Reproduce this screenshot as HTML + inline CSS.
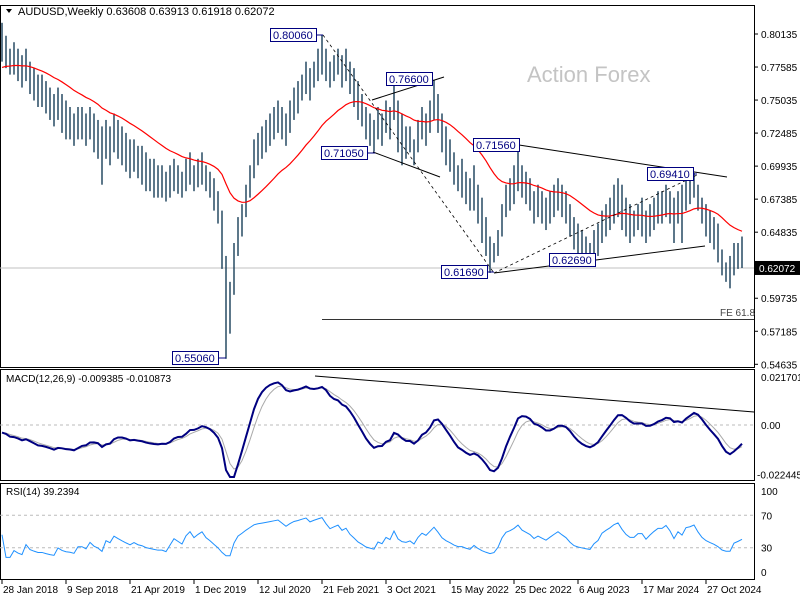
<!DOCTYPE html>
<html><head><meta charset="utf-8">
<style>
html,body{margin:0;padding:0;background:#fff;}
svg{display:block;font-family:"Liberation Sans",sans-serif;}
</style></head>
<body>
<svg id="c" width="800" height="600" viewBox="0 0 800 600">
<rect x="0" y="0" width="800" height="600" fill="#fff"/>
</svg>
<script>
const highs=[.81,.80,.79,.795,.79,.785,.79,.78,.775,.77,
.77,.765,.76,.755,.76,.755,.75,.745,.74,.745,
.745,.74,.745,.74,.735,.73,.735,.73,.74,.735,
.73,.725,.72,.72,.715,.715,.71,.705,.705,.70,
.70,.695,.70,.705,.70,.695,.705,.71,.70,.705,
.71,.70,.695,.69,.68,.665,.63,.61,.64,.66,
.67,.685,.70,.72,.725,.73,.735,.74,.745,.75,
.745,.74,.75,.76,.765,.77,.78,.775,.78,.79,
.8006,.79,.78,.785,.79,.785,.79,.78,.775,.765,
.755,.745,.74,.735,.745,.74,.75,.745,.766,.75,
.74,.73,.73,.72,.735,.745,.74,.75,.766,.755,
.74,.73,.72,.71,.70,.705,.695,.69,.70,.685,
.675,.66,.645,.64,.65,.67,.685,.69,.70,.7156,
.70,.695,.69,.68,.685,.68,.675,.68,.685,.69,
.685,.68,.67,.66,.655,.65,.645,.64,.65,.655,
.665,.67,.675,.685,.69,.685,.675,.67,.665,.67,
.675,.665,.67,.675,.68,.68,.685,.68,.675,.68,
.685,.69,.69,.6941,.685,.675,.67,.665,.66,.655,
.635,.625,.63,.64,.64,.645];
const lows=[.78,.775,.77,.77,.765,.76,.765,.755,.75,.745,
.745,.74,.735,.73,.735,.725,.72,.72,.715,.72,
.72,.715,.72,.71,.705,.685,.705,.70,.71,.705,
.70,.695,.69,.695,.69,.685,.68,.68,.675,.675,
.675,.672,.675,.68,.678,.675,.68,.685,.68,.683,
.685,.68,.675,.665,.655,.62,.5506,.57,.60,.63,
.645,.66,.675,.69,.70,.705,.71,.715,.72,.725,
.72,.715,.725,.735,.74,.75,.755,.75,.76,.765,
.77,.765,.76,.765,.77,.76,.765,.755,.745,.735,
.73,.72,.715,.7105,.72,.715,.725,.72,.735,.71,
.70,.705,.71,.70,.71,.72,.715,.725,.735,.725,
.71,.70,.695,.685,.68,.675,.67,.665,.665,.655,
.64,.63,.6169,.625,.63,.645,.66,.665,.67,.68,
.675,.67,.665,.655,.66,.655,.65,.655,.66,.665,
.66,.655,.645,.635,.63,.628,.6269,.627,.628,.63,
.64,.645,.65,.655,.66,.65,.645,.64,.645,.65,
.645,.64,.645,.65,.655,.655,.66,.655,.64,.655,
.64,.665,.67,.675,.665,.655,.645,.64,.635,.625,
.615,.61,.605,.615,.62,.6207];
const priceTicks=["0.80135","0.77585","0.75035","0.72485","0.69935","0.67385","0.64835","0.59735","0.57185","0.54635"];
const dateLabels=["28 Jan 2018","9 Sep 2018","21 Apr 2019","1 Dec 2019","12 Jul 2020","21 Feb 2021","3 Oct 2021","15 May 2022","25 Dec 2022","6 Aug 2023","17 Mar 2024","27 Oct 2024"];
const dateIdx=[0,16,32,48,64,80,96,112,128,144,160,176];
const rsiTicks=[100,70,30,0];

const svg=document.getElementById('c');
const NS='http://www.w3.org/2000/svg';
function mk(t,a,p){const e=document.createElementNS(NS,t);for(const k in a)e.setAttribute(k,a[k]);(p||svg).appendChild(e);return e;}
const xOf=i=>2+i*4;
const yP=p=>34+(0.80135-p)/0.0255*33.03;
const yM=v=>425-v*2212;
const yR=v=>572-v*0.81;

let e;
e=mk('rect',{x:0.5,y:5.5,width:754,height:362,fill:'none',stroke:'#000'});

e=mk('rect',{x:0.5,y:369.5,width:754,height:111,fill:'none',stroke:'#000'});

e=mk('rect',{x:0.5,y:483.5,width:754,height:96,fill:'none',stroke:'#000'});


e=mk('text',{x:527,y:82,'font-size':22,fill:'#c4c4c4'});e.textContent='Action Forex';


priceTicks.forEach(t=>{const y=yP(parseFloat(t));
 mk('line',{x1:754,x2:758,y1:y,y2:y,stroke:'#000'});
 e=mk('text',{x:761,y:y+4,'font-size':10,fill:'#000'});e.textContent=t;
 
});

const last=0.62072;
e=mk('line',{x1:0,x2:754,y1:yP(last),y2:yP(last),stroke:'#c0c0c0'});

e=mk('rect',{x:755,y:yP(last)-7,width:45,height:14,fill:'#000'});

e=mk('text',{x:759,y:yP(last)+4,'font-size':10,fill:'#fff'});e.textContent='0.62072';

e=mk('line',{x1:322,x2:754,y1:319.5,y2:319.5,stroke:'#333'});

e=mk('text',{x:720,y:316,'font-size':10,fill:'#444'});e.textContent='FE 61.8';


const g=mk('g',{stroke:'#173d58','stroke-width':1.4});

const mids=highs.map((h,i)=>(h+lows[i])/2);
highs.forEach((h,i)=>{const x=xOf(i);
 const b=mk('line',{x1:x,x2:x,y1:yP(h),y2:yP(lows[i])},g);
 
 
});

let ema=0.774;const ma=[];mids.forEach(m=>{ema=ema+(m-ema)*2/(28);ma.push(ema);});
e=mk('polyline',{points:ma.map((v,i)=>xOf(i)+','+yP(v)).join(' '),fill:'none',stroke:'#f00','stroke-width':1.2});


const lines=[[372,100,444,77,''],[373,152,440,177,''],[519,145,727,177,''],[494,273,705,246,''],[323,35,494,273,'3,3'],[494,273,697,175,'3,3']];
lines.forEach(l=>{e=mk('line',{x1:l[0],y1:l[1],x2:l[2],y2:l[3],stroke:'#000','stroke-dasharray':l[4]||'none','stroke-width':l[4]?0.8:1});
 });
const notes=[['0.80060',270,28,323],['0.76600',386,72,null],['0.71050',321,146,375],['0.71560',473,138,519],['0.69410',647,167,697],['0.61690',441,265,494],['0.62690',549,253,592],['0.55060',172,351,226]];
notes.forEach(n=>{
 if(n[3]){mk('line',{x1:n[1]+46,x2:n[3],y1:n[2]+7,y2:n[2]+7,stroke:'#000080'});}
 e=mk('rect',{x:n[1]+0.5,y:n[2]+0.5,width:46,height:13,fill:'#fff',stroke:'#000080'});
 
 e=mk('text',{x:n[1]+3,y:n[2]+11,'font-size':11,fill:'#000080'});e.textContent=n[0];
 
});

e=mk('path',{d:'M6 9 L12 9 L9 13 Z',fill:'#000'});

e=mk('text',{x:18,y:15,'font-size':11,fill:'#000'});e.textContent='AUDUSD,Weekly  0.63608 0.63913 0.61918 0.62072';
e.setAttribute('xml:space','preserve');


function emaArr(a,n,seed){let v=seed;return a.map(x=>{v=v+(x-v)*2/(n+1);return v;});}
const e12=emaArr(mids,6,mids[0]),e26=emaArr(mids,13,mids[0]+0.004);
const macd=e12.map((v,i)=>v-e26[i]);
const sig=emaArr(macd,4,macd[0]);
const clampM=v=>Math.max(-0.0235,Math.min(0.0225,v));
mk('line',{x1:0,x2:754,y1:yM(0),y2:yM(0),stroke:'#bbb','stroke-dasharray':'3,3'});
e=mk('polyline',{points:sig.map((v,i)=>xOf(i)+','+yM(clampM(v))).join(' '),fill:'none',stroke:'#aaa'});

e=mk('polyline',{points:macd.map((v,i)=>xOf(i)+','+yM(clampM(v))).join(' '),fill:'none',stroke:'#000080','stroke-width':2});

e=mk('line',{x1:315,y1:376,x2:754,y2:412,stroke:'#000'});

e=mk('text',{x:6,y:382,'font-size':10,fill:'#000'});e.textContent='MACD(12,26,9) -0.009385 -0.010873';

[['0.021701',0.0217],['0.00',0],['-0.022445',-0.02244]].forEach(t=>{
 e=mk('text',{x:t[1]<0?757:761,y:yM(t[1])+4,'font-size':10,fill:'#000'});e.textContent=t[0];
 });

let ag=0,al=0;const rsi=[50];
for(let i=1;i<mids.length;i++){const d=mids[i]-mids[i-1];ag=(ag*6+Math.max(d,0))/7;al=(al*6+Math.max(-d,0))/7;rsi.push(al===0?70:100-100/(1+ag/al));}
const rs=rsi.map(v=>46+(v-50)*0.6);
[70,30].forEach(v=>mk('line',{x1:0,x2:754,y1:yR(v),y2:yR(v),stroke:'#bbb','stroke-dasharray':'3,3'}));
e=mk('polyline',{points:rs.map((v,i)=>xOf(i)+','+yR(Math.max(18,Math.min(74,v)))).join(' '),fill:'none',stroke:'#1e90ff'});

e=mk('text',{x:6,y:495,'font-size':10,fill:'#000'});e.textContent='RSI(14) 39.2394';

rsiTicks.forEach(t=>{e=mk('text',{x:761,y:yR(t)+4,'font-size':10,fill:'#000'});e.textContent=t;
 });

dateLabels.forEach((d,k)=>{const x=xOf(dateIdx[k]);
 mk('line',{x1:x,x2:x,y1:580,y2:584,stroke:'#000'});
 e=mk('text',{x:x+1,y:593,'font-size':10,fill:'#000'});e.textContent=d;
 });
</script>
</body></html>
